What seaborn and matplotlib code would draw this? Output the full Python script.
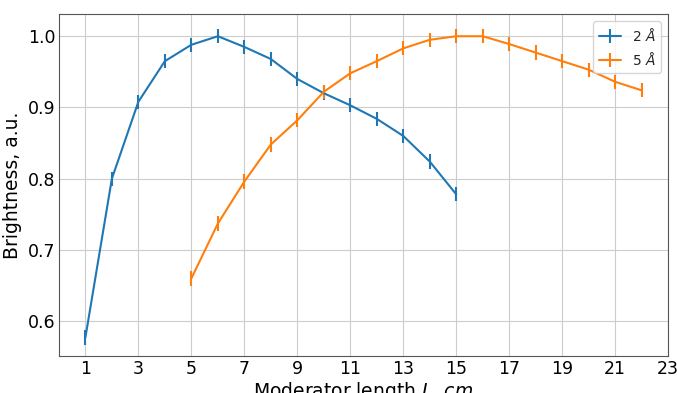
import numpy as np
import pandas as pd
import matplotlib
matplotlib.use("Agg")
import matplotlib.pyplot as plt
import seaborn as sns

x_2A = [1, 2, 3, 4, 5, 6, 7, 8, 9, 10, 11, 12, 13, 14, 15]
y_2A = [0.577, 0.800, 0.908, 0.965, 0.988, 1.000, 0.985, 0.968, 0.940, 0.920, 0.903, 0.884, 0.860, 0.824, 0.778]
x_5A = [5, 6, 7, 8, 9, 10, 11, 12, 13, 14, 15, 16, 17, 18, 19, 20, 21, 22]
y_5A = [0.660, 0.737, 0.796, 0.848, 0.882, 0.922, 0.948, 0.965, 0.983, 0.995, 1.000, 1.000,
        0.989, 0.977, 0.965, 0.953, 0.936, 0.924]
err = 0.01
labels = [r"2 $\AA$", r"5 $\AA$"]
xticks = list(range(1, 24, 2))

sns.set_theme(style="whitegrid")
fig, ax = plt.subplots(figsize=(6.77, 3.93), dpi=100)

df = pd.concat([
    pd.DataFrame({"L": x_2A, "B": y_2A, "s": labels[0]}),
    pd.DataFrame({"L": x_5A, "B": y_5A, "s": labels[1]}),
])
colors = ["#1f77b4", "#ff7f0e"]
for (lab, g), c in zip(df.groupby("s", sort=False), colors):
    ax.errorbar(g["L"], g["B"], yerr=err, color=c, label=lab, lw=1.5, elinewidth=1.5)

ax.set_xlim(0, 23)
ax.set_ylim(0.551, 1.031)
ax.set_xticks(xticks)
ax.set_yticks([0.6, 0.7, 0.8, 0.9, 1.0])
ax.tick_params(labelsize=12.5, labelcolor="black", length=0, pad=2.5)
ax.set_xlabel(r"Moderator length $L$, $cm$", fontsize=13.5, color="black", labelpad=2)
ax.set_ylabel("Brightness, a.u.", fontsize=13.5, color="black", labelpad=4)
ax.grid(True, color="#cccccc", lw=0.8)
for sp in ax.spines.values():
    sp.set_color("#555555")
    sp.set_linewidth(0.8)
ax.legend(loc="upper right", fontsize=10, frameon=True, handlelength=1.6)
fig.subplots_adjust(left=0.087, right=0.987, top=0.964, bottom=0.094)
fig.savefig("out.png", dpi=100)
